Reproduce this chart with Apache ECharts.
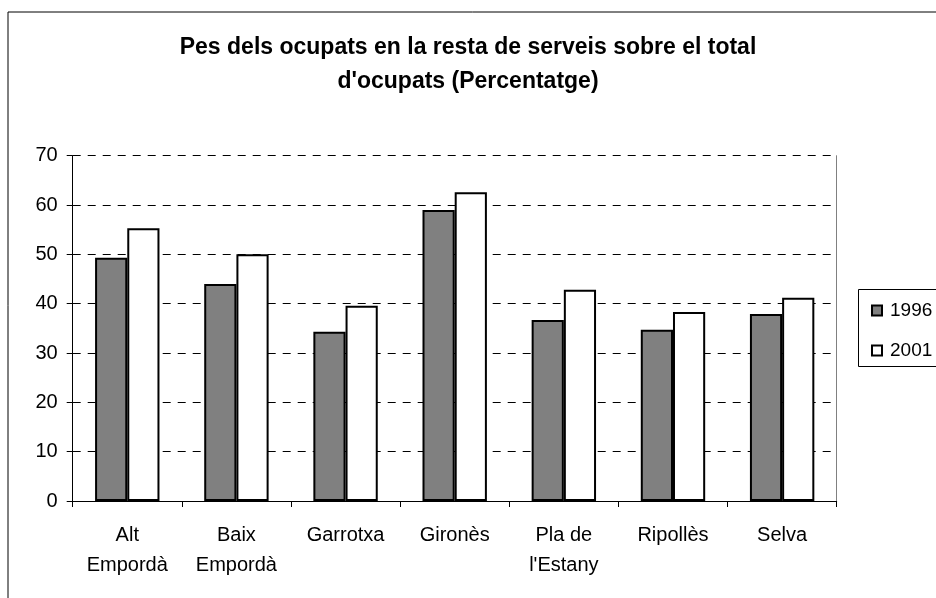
<!DOCTYPE html>
<html>
<head>
<meta charset="utf-8">
<script src="https://cdn.jsdelivr.net/npm/echarts@6/dist/echarts.min.js"></script>
<style>
  html, body { margin: 0; padding: 0; background: #fff; }
  #chart { width: 936px; height: 598px; }
</style>
</head>
<body>
<div id="chart"></div>
<script>
// dades llegides del gràfic
var comarques = ["Alt\nEmpordà", "Baix\nEmpordà", "Garrotxa", "Gironès", "Pla de\nl'Estany", "Ripollès", "Selva"];
var anys = ["1996", "2001"];
var valors1996 = [49.3, 44.0, 34.3, 59.0, 36.7, 34.7, 37.9];
var valors2001 = [55.3, 50.0, 39.6, 62.6, 42.8, 38.3, 41.2];

var fontFamily = "'Liberation Sans', Arial, sans-serif";

var chartDom = document.getElementById("chart");
var myChart = echarts.init(chartDom);

var option = {
  animation: false,
  backgroundColor: "#fff",
  textStyle: { fontFamily: fontFamily, color: "#000" },
  title: {
    text: "Pes dels ocupats en la resta de serveis sobre el total\nd'ocupats (Percentatge)",
    left: "center",
    top: 26,
    textStyle: {
      fontFamily: fontFamily,
      fontSize: 23,
      fontWeight: "bold",
      color: "#000",
      lineHeight: 34
    }
  },
  legend: {
    data: anys,
    orient: "vertical",
    left: 866,
    top: 296,
    itemWidth: 10,
    itemHeight: 10,
    itemGap: 21,
    icon: "rect",
    textStyle: { fontFamily: fontFamily, fontSize: 19, lineHeight: 18, color: "#000", padding: [0, 0, 0, 3] }
  },
  grid: {
    left: 72.7,
    right: 99.3,
    top: 155.7,
    bottom: 97
  },
  xAxis: {
    type: "category",
    data: comarques,
    axisLine: { lineStyle: { color: "#000", width: 1 } },
    axisTick: { show: true, length: 6, lineStyle: { color: "#000" } },
    axisLabel: {
      color: "#000",
      fontFamily: fontFamily,
      fontSize: 20,
      lineHeight: 30,
      margin: 19,
      interval: 0
    }
  },
  yAxis: [
    {
      type: "value",
      min: 0,
      max: 70,
      interval: 10,
      axisLine: { show: true, lineStyle: { color: "#000", width: 1 } },
      axisTick: { show: true, length: 6, lineStyle: { color: "#000" } },
      axisLabel: { color: "#000", fontFamily: fontFamily, fontSize: 20, margin: 15 },
      splitLine: { show: true, lineStyle: { color: "#000", type: [8, 7], width: 1 } }
    },
    {
      type: "value",
      position: "right",
      min: 0,
      max: 70,
      interval: 10,
      axisLine: { show: true, lineStyle: { color: "#808080", width: 1 } },
      axisTick: { show: false },
      axisLabel: { show: false },
      splitLine: { show: false }
    }
  ],
  series: [
    {
      name: anys[0],
      type: "bar",
      data: valors1996,
      barGap: "0%",
      barCategoryGap: "41%",
      itemStyle: { color: "#808080", borderColor: "#000", borderWidth: 2 }
    },
    {
      name: anys[1],
      type: "bar",
      data: valors2001,
      itemStyle: { color: "#fff", borderColor: "#000", borderWidth: 2 }
    }
  ],
  graphic: [
    {
      type: "rect",
      shape: { x: 8, y: 12, width: 1000, height: 1000 },
      style: { fill: "none", stroke: "#000", lineWidth: 1 },
      silent: true,
      z: -1
    },
    {
      type: "rect",
      shape: { x: 858.5, y: 289.5, width: 200, height: 77 },
      style: { fill: "none", stroke: "#000", lineWidth: 1 },
      silent: true
    }
  ]
};

myChart.setOption(option);
</script>
</body>
</html>
